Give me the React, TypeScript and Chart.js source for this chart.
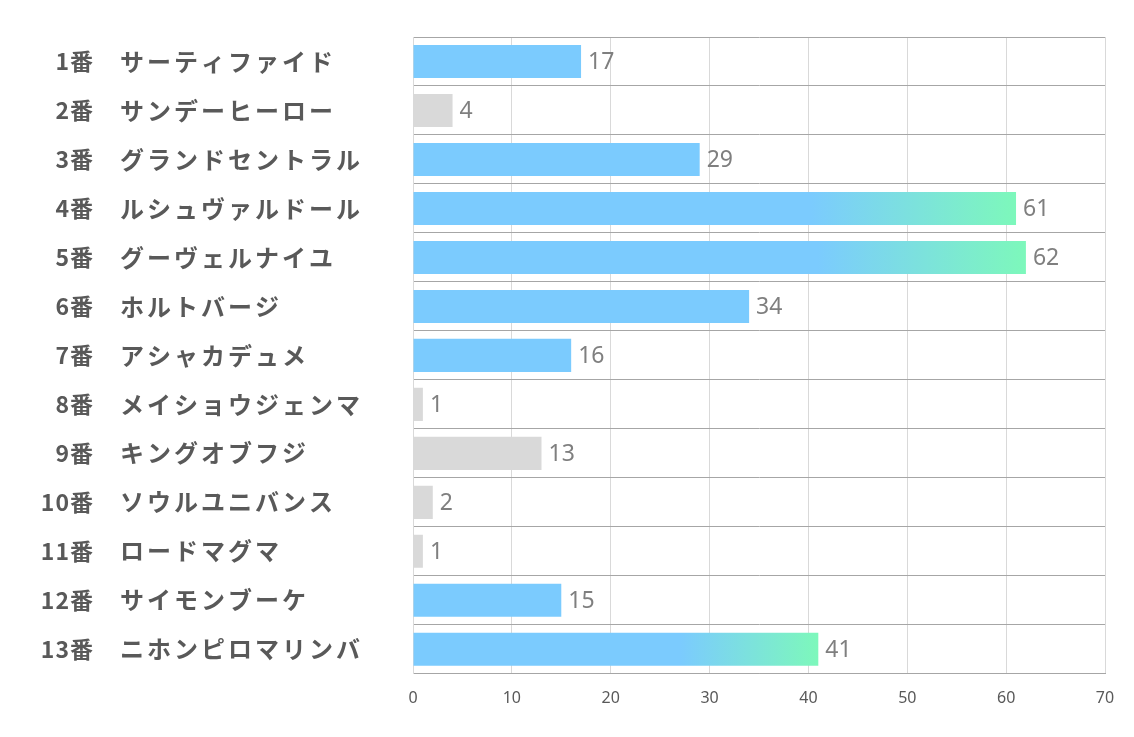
import React, { useEffect, useRef } from "react";
import { Chart, registerables } from "chart.js";

Chart.register(...registerables);

const horseNumbers = ["1番", "2番", "3番", "4番", "5番", "6番", "7番", "8番", "9番", "10番", "11番", "12番", "13番"];
const horseNames = [
  "サーティファイド",
  "サンデーヒーロー",
  "グランドセントラル",
  "ルシュヴァルドール",
  "グーヴェルナイユ",
  "ホルトバージ",
  "アシャカデュメ",
  "メイショウジェンマ",
  "キングオブフジ",
  "ソウルユニバンス",
  "ロードマグマ",
  "サイモンブーケ",
  "ニホンピロマリンバ",
];
const values = [17, 4, 29, 61, 62, 34, 16, 1, 13, 2, 1, 15, 41];
const xTicks = [0, 10, 20, 30, 40, 50, 60, 70];
const gradientHorses = [4, 5, 13];
const grayHorses = [2, 8, 9, 10, 11];

const BLUE = "#7BCBFE";
const GREEN = "#7DF8BB";
const GRAY = "#D9D9D9";

function drawSpaced(ctx: CanvasRenderingContext2D, text: string, x: number, y: number, spacing: number, align: "left" | "right") {
  const chars = Array.from(text);
  const widths = chars.map((c) => ctx.measureText(c).width);
  const total = widths.reduce((a, b) => a + b, 0) + spacing * (chars.length - 1);
  let cx = align === "left" ? x : x - total;
  ctx.textAlign = "left";
  chars.forEach((c, i) => {
    ctx.fillText(c, cx, y);
    cx += widths[i] + spacing;
  });
}

const labelPlugin = {
  id: "horseLabels",
  afterDraw(chart: any) {
    const ctx = chart.ctx as CanvasRenderingContext2D;
    const yScale = chart.scales.y;
    ctx.save();
    ctx.fillStyle = "#595959";
    ctx.textBaseline = "middle";
    horseNumbers.forEach((num, i) => {
      const y = yScale.getPixelForValue(i);
      ctx.font = 'bold 23px "Noto Sans CJK JP"';
      drawSpaced(ctx, num, 93, y, 1, "right");
      ctx.font = 'bold 24px "Noto Sans CJK JP"';
      drawSpaced(ctx, horseNames[i], 120, y, 3, "left");
    });
    // value labels
    const meta = chart.getDatasetMeta(0);
    ctx.fillStyle = "#7F7F7F";
    ctx.font = '23px "Noto Sans"';
    ctx.textAlign = "left";
    meta.data.forEach((bar: any, i: number) => {
      ctx.fillText(String(values[i]), bar.x + 7, bar.y + 1);
    });
    ctx.restore();
  },
};

export default function App() {
  const ref = useRef<HTMLCanvasElement | null>(null);
  useEffect(() => {
    document.body.style.margin = "0";
    const canvas = ref.current!;
    const chart = new Chart(canvas, {
      type: "bar",
      data: {
        labels: horseNumbers.map((n, i) => n + " " + horseNames[i]),
        datasets: [
          {
            data: values,
            barPercentage: 0.675,
            categoryPercentage: 1,
            backgroundColor: (c: any) => {
              const idx = c.dataIndex;
              const horse = idx + 1;
              if (grayHorses.includes(horse)) return GRAY;
              if (gradientHorses.includes(horse)) {
                const chartRef = c.chart;
                const xs = chartRef.scales?.x;
                if (!chartRef.chartArea || !xs) return BLUE;
                const x0 = xs.getPixelForValue(0);
                const x1 = xs.getPixelForValue(values[idx]);
                const g = chartRef.ctx.createLinearGradient(x0, 0, x1, 0);
                g.addColorStop(0, BLUE);
                g.addColorStop(0.66, BLUE);
                g.addColorStop(1, GREEN);
                return g;
              }
              return BLUE;
            },
            borderWidth: 0,
          },
        ],
      },
      options: {
        indexAxis: "y",
        animation: false,
        responsive: false,
        maintainAspectRatio: false,
        layout: { padding: { left: 413, right: 29, top: 37, bottom: 14 } },
        plugins: { legend: { display: false }, tooltip: { enabled: false } },
        scales: {
          x: {
            min: 0,
            max: 70,
            afterBuildTicks: (axis: any) => {
              axis.ticks = xTicks.map((v) => ({ value: v }));
            },
            grid: { color: "#D9D9D9", lineWidth: 1, drawTicks: false },
            border: { color: "#A6A6A6", width: 1 },
            ticks: {
              color: "#595959",
              font: { family: "Noto Sans", size: 16 },
              padding: 15,
              maxRotation: 0,
            },
          },
          y: {
            grid: { color: "#A6A6A6", lineWidth: 1, drawTicks: false, offset: true },
            border: { color: "#D9D9D9", width: 1 },
            ticks: { display: false },
          },
        },
      },
      plugins: [labelPlugin],
    } as any);
    return () => chart.destroy();
  }, []);
  return (
    <div style={{ width: 1134, height: 737 }}>
      <canvas ref={ref} width={1134} height={737} style={{ display: "block" }} />
    </div>
  );
}
